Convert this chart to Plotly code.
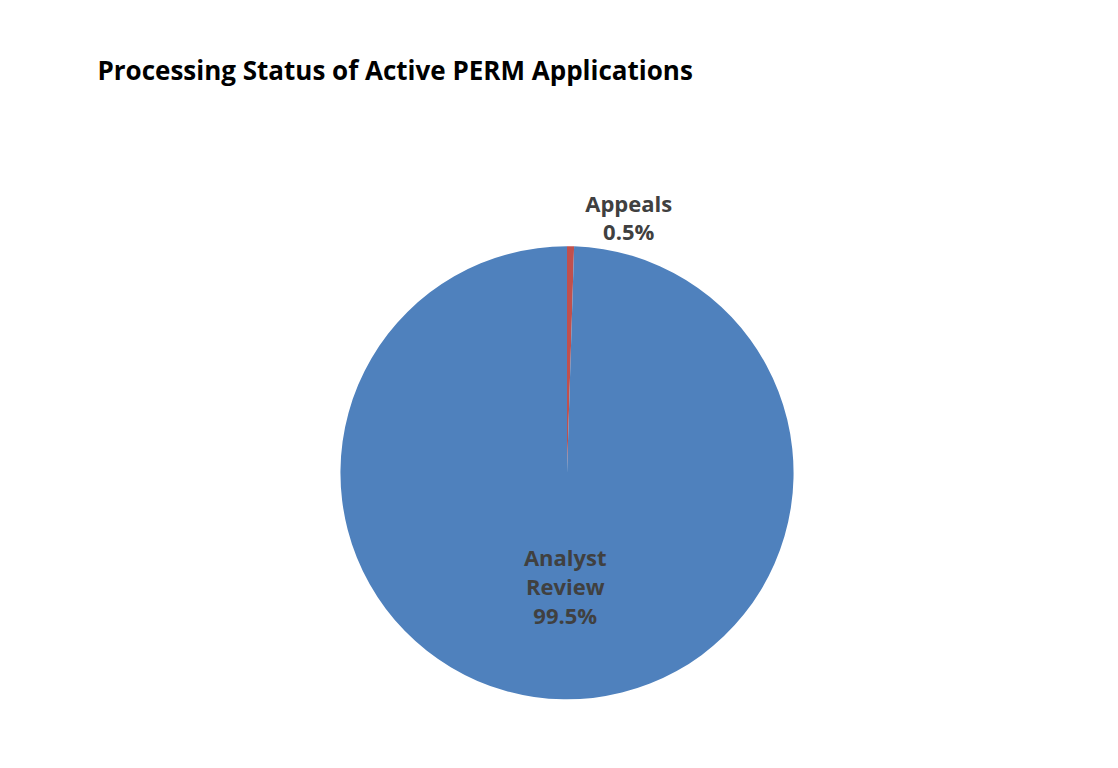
import plotly.graph_objects as go

labels = ["Appeals", "Analyst Review"]
values = [0.5, 99.5]
colors = ["#C0504D", "#4F81BD"]

fig = go.Figure(go.Pie(
    labels=labels, values=values, sort=False, direction="clockwise", rotation=0,
    marker=dict(colors=colors, line=dict(color="#4F81BD", width=0)),
    texttemplate=["<b>%{label}<br>%{percent:.1%}</b>", "<b>Analyst<br>Review<br>%{percent:.1%}</b>"],
    textposition=["outside", "inside"],
    insidetextorientation="horizontal",
    textfont=dict(family="Open Sans", size=22, color="#404040"),
    hole=0, showlegend=False,
    domain=dict(x=[0.1, 0.9], y=[0.08, 0.72]),
))
fig.update_layout(
    width=1118, height=768, paper_bgcolor="white",
    margin=dict(l=20, r=20, t=40, b=20),
    title=dict(text="<b>Processing Status of Active PERM Applications</b>", x=0.08, y=0.93,
               xanchor="left", font=dict(family="Open Sans", size=26, color="black")),
)
fig.write_html("out.html")
